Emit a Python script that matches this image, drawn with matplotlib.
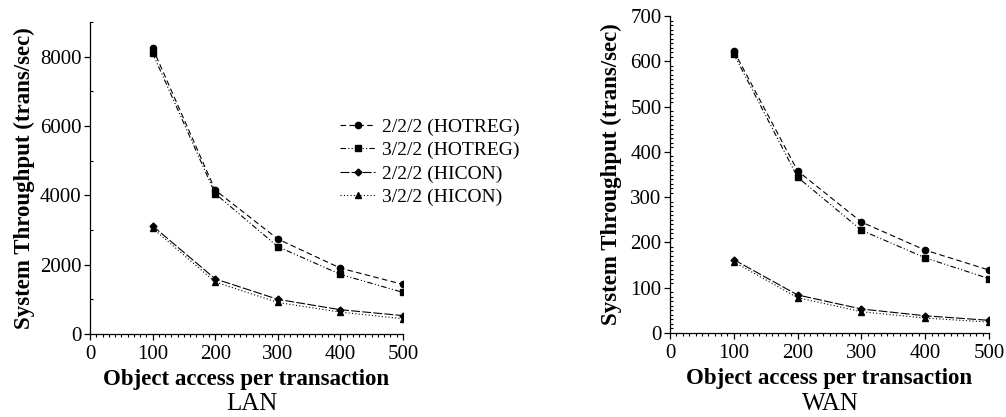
import matplotlib.pyplot as plt
from matplotlib.ticker import MultipleLocator

plt.rcParams['font.family'] = ['Liberation Serif', 'DejaVu Serif']

# %%
# Data
x = [100, 200, 300, 400, 500]

labels = ['2/2/2 (HOTREG)', '3/2/2 (HOTREG)', '2/2/2 (HICON)', '3/2/2 (HICON)']

lan_222_hotreg = [8250, 4150, 2740, 1900, 1430]
lan_322_hotreg = [8100, 4050, 2520, 1720, 1200]
lan_222_hicon = [3120, 1590, 1000, 700, 530]
lan_322_hicon = [3050, 1500, 910, 630, 440]

wan_222_hotreg = [623, 358, 245, 183, 139]
wan_322_hotreg = [616, 344, 227, 166, 120]
wan_222_hicon = [162, 84, 53, 38, 28]
wan_322_hicon = [157, 78, 47, 33, 24]

styles = [
    dict(marker='o', linestyle=(0, (5, 3))),
    dict(marker='s', linestyle=(0, (5, 2, 1, 2, 1, 2))),
    dict(marker='D', linestyle=(0, (8, 2)), markersize=3.5),
    dict(marker='^', linestyle=(0, (1, 2))),
]

fig = plt.figure(figsize=(10.06, 4.17), dpi=100)
ax1 = fig.add_axes([90 / 1006, 1 - 334 / 417, 313 / 1006, 312 / 417])
ax2 = fig.add_axes([670 / 1006, 1 - 333 / 417, 319 / 1006, 317 / 417])


def draw(ax, series, ymax, ymajor, yminor, ypad):
    lines = []
    for ys, lab, st in zip(series, labels, styles):
        kw = dict(color='black', linewidth=0.8, markersize=4.5)
        kw.update(st)
        ln, = ax.plot(x, ys, label=lab, **kw)
        lines.append(ln)
    ax.set_xlim(0, 500)
    ax.set_ylim(0, ymax)
    ax.xaxis.set_major_locator(MultipleLocator(100))
    ax.xaxis.set_minor_locator(MultipleLocator(10))
    ax.yaxis.set_major_locator(MultipleLocator(ymajor))
    ax.yaxis.set_minor_locator(MultipleLocator(yminor))
    for s in ['top', 'right']:
        ax.spines[s].set_visible(False)
    ax.spines['left'].set_linewidth(0.9)
    ax.spines['bottom'].set_linewidth(0.9)
    ax.tick_params(axis='both', which='major', direction='out', length=4,
                   width=0.9, labelsize=15, pad=2)
    ax.tick_params(axis='x', which='major', pad=4)
    ax.tick_params(axis='x', which='minor', direction='out', length=2.2,
                   width=0.8)
    ax.tick_params(axis='y', which='minor', direction='in', length=2.2,
                   width=0.8)
    ax.set_xlabel('Object access per transaction', fontsize=16.5,
                  fontweight='bold', labelpad=3.5)
    ax.set_ylabel('System Throughput (trans/sec)', fontsize=16.5,
                  fontweight='bold', labelpad=ypad)
    return lines


lines = draw(ax1, [lan_222_hotreg, lan_322_hotreg, lan_222_hicon,
                   lan_322_hicon], 9000, 2000, 1000, 3.5)
draw(ax2, [wan_222_hotreg, wan_322_hotreg, wan_222_hicon, wan_322_hicon],
     700, 100, 10, 6)

fig.text(252 / 1006, 1 - 404 / 417, 'LAN', ha='center', va='center',
         fontsize=18)
fig.text(830 / 1006, 1 - 404 / 417, 'WAN', ha='center', va='center',
         fontsize=18)

fig.legend(handles=lines, loc='upper left',
           bbox_to_anchor=(340 / 1006, 1 - 118 / 417), frameon=False,
           fontsize=14, handlelength=1.8, handletextpad=0.35,
           labelspacing=0.3, borderpad=0, borderaxespad=0)

fig.savefig('out.png', dpi=100)
